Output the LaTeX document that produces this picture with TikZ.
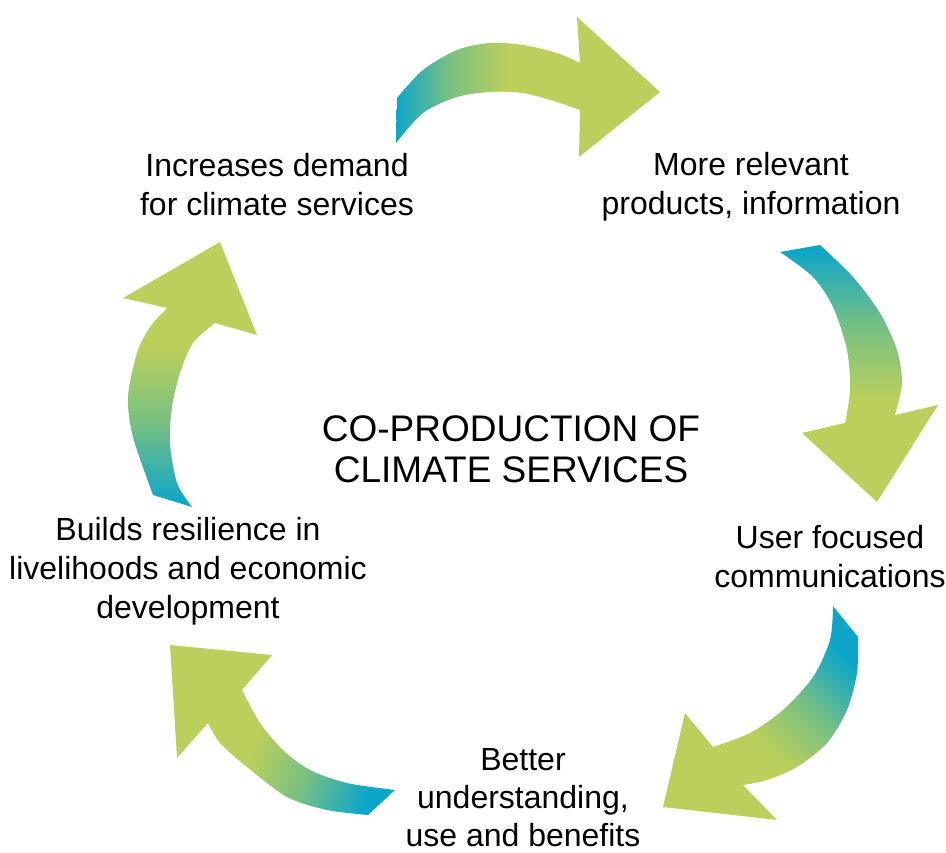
\documentclass[tikz,border=0pt]{standalone}
\usepackage{fontspec}
\setmainfont{Liberation Sans}
\usepackage{tikz}
\definecolor{cteal}{RGB}{14,166,200}
\definecolor{cmid}{RGB}{120,192,130}
\definecolor{clime}{RGB}{186,207,92}
\pgfdeclarehorizontalshading{arrowgrad}{100bp}{color(0bp)=(cteal); color(25bp)=(cteal); color(35bp)=(cmid); color(46bp)=(clime); color(100bp)=(clime)}
\pgfdeclarehorizontalshading{arrowgradwide}{100bp}{color(0bp)=(cteal); color(26bp)=(cteal); color(41bp)=(cmid); color(55bp)=(clime); color(100bp)=(clime)}

\begin{document}
\begin{tikzpicture}[x=1pt,y=-1pt,
	lbl/.style={align=center,inner sep=1pt,font=\fontsize{32}{39}\selectfont},
	big/.style={align=center,font=\fontsize{37}{41}\selectfont},
	arr/.style={shading=arrowgrad},
	arrw/.style={shading=arrowgradwide}]
	\useasboundingbox (0,0) rectangle (946,853);

	% Draw the top arrow
	\shade[arr,shading angle=0] (397,98) -- plot[smooth] coordinates {(397,98) (423,70) (457,50) (490,43) (523,45) (557,53) (580,63)}
		-- (577,17) -- (660,92) -- (579,157) -- (580,110)
		-- plot[smooth] coordinates {(580,110) (557,102) (523,93) (490,92) (457,97) (423,113) (396,143)} -- cycle;

	% Draw the right arrow
	\shade[arrw,shading angle=-90] (780,252) -- (820,245)
		-- plot[smooth] coordinates {(820,245) (853,277) (880,313) (897,350) (902,383) (895,415)}
		-- (938,405) -- (877,502) -- (802,433) -- (845,423)
		-- plot[smooth] coordinates {(845,423) (850,390) (847,350) (833,307) (813,277) (780,252)} -- cycle;

	% Draw the lower right arrow
	\shade[arrw,shading angle=225] (833,606) -- (858,637)
		-- plot[smooth] coordinates {(858,637) (857,673) (847,710) (827,743) (797,767) (767,780) (743,785)}
		-- (777,820) -- (663,807) -- (685,713) -- (713,747)
		-- plot[smooth] coordinates {(713,747) (750,733) (783,710) (813,677) (830,640) (833,606)} -- cycle;

	% Draw the lower left arrow
	\shade[arrw,shading angle=160] (395,790) -- (368,815)
		-- plot[smooth] coordinates {(368,815) (327,810) (287,797) (247,767) (220,743) (208,723)}
		-- (177,758) -- (170,645) -- (272,655) -- (242,690)
		-- plot[smooth] coordinates {(242,690) (260,723) (283,750) (310,770) (347,783) (395,790)} -- cycle;

	% Draw the left arrow
	\shade[arrw,shading angle=90] (192,507) -- (153,495)
		-- plot[smooth] coordinates {(153,495) (133,437) (128,397) (137,353) (150,327) (167,308)}
		-- (123,298) -- (220,242) -- (257,335) -- (215,323)
		-- plot[smooth] coordinates {(215,323) (193,343) (180,373) (172,407) (170,443) (177,483) (192,507)} -- cycle;

	% Labels
	\node[lbl] (demand) at (277,185) {Increases demand\\for climate services};
	\node[lbl] (products) at (751,187) {More relevant\\products, information};
	\node[lbl] (comms) at (830,557) {User focused\\communications};
	\node[lbl,font=\fontsize{32}{38}\selectfont] (better) at (523,798) {Better\\understanding,\\use and benefits};
	\node[lbl] (resil) at (188,571) {Builds resilience in\\livelihoods and economic\\development};
	\node[big] (centre) at (511,449) {CO-PRODUCTION OF\\CLIMATE SERVICES};
\end{tikzpicture}
\end{document}
